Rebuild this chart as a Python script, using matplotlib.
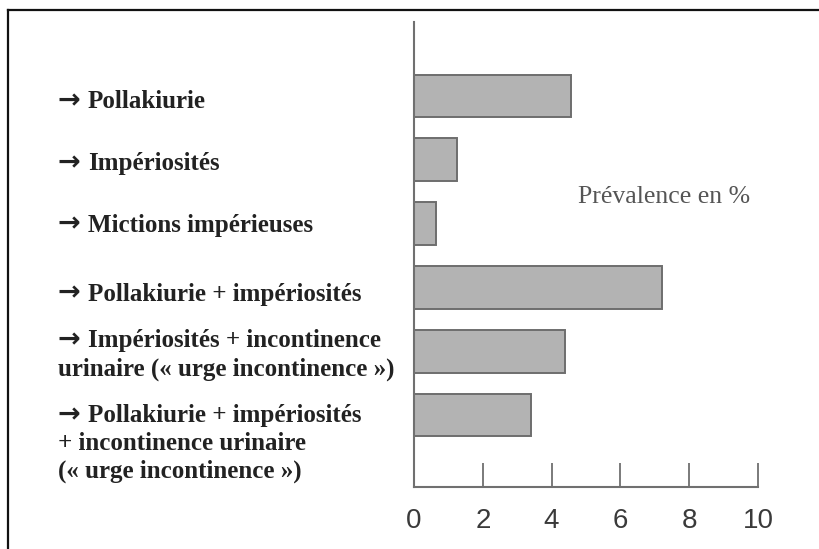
import matplotlib.pyplot as plt
from matplotlib.lines import Line2D
from matplotlib.transforms import blended_transform_factory

# Data
categories = [
    "Pollakiurie",
    "Impériosités",
    "Mictions impérieuses",
    "Pollakiurie + impériosités",
    "Impériosités + incontinence\nurinaire (« urge incontinence »)",
    "Pollakiurie + impériosités\n+ incontinence urinaire\n(« urge incontinence »)",
]
prevalence = [4.55, 1.25, 0.65, 7.2, 4.4, 3.4]
xticks = [0, 2, 4, 6, 8, 10]

serif = ["Liberation Serif", "DejaVu Serif"]
sans = ["Liberation Sans Narrow", "Liberation Sans", "DejaVu Sans"]

fig = plt.figure(figsize=(8.2, 5.49), dpi=100)
ax = fig.add_axes([0.5049, 0.1129, 0.4195, 0.8471])

ypos = list(range(len(prevalence)))
ax.barh(ypos, prevalence, height=0.67, color="#b3b3b3",
        edgecolor="#6e6e6e", linewidth=1.4)

ax.set_xlim(0, 10)
ax.set_ylim(6.13, -1.16)
ax.set_xticks(xticks)
ax.set_xticklabels([str(t) for t in xticks], family=sans, fontsize=20,
                   color="#3a3a3a")
ax.tick_params(axis="x", direction="in", length=17, width=1.3,
               color="#707070", pad=15)
ax.set_yticks([])

for side in ["top", "right"]:
    ax.spines[side].set_visible(False)
for side in ["left", "bottom"]:
    ax.spines[side].set_color("#707070")
    ax.spines[side].set_linewidth(1.5)

# category labels: x in figure fraction, y in data units
trans = blended_transform_factory(fig.transFigure, ax.transData)
baseline_shift = [0.19, 0.16, 0.13, 0.21, -0.06, 0.11]
line_step = 20  # points between lines
for y, label, dy in zip(ypos, categories, baseline_shift):
    lines = label.split("\n")
    ax.annotate("\u2192", xy=(57 / 820, y + dy), xycoords=trans,
                xytext=(0, 0), textcoords="offset points",
                ha="left", va="baseline", family=["DejaVu Sans"],
                fontweight="bold", fontsize=19.5, color="#222222")
    ax.annotate(lines[0], xy=(88 / 820, y + dy), xycoords=trans,
                xytext=(0, 0), textcoords="offset points",
                ha="left", va="baseline", family=serif, fontweight="bold",
                fontsize=18, color="#222222")
    for k, line in enumerate(lines[1:], start=1):
        ax.annotate(line, xy=(58 / 820, y + dy), xycoords=trans,
                    xytext=(0, -k * line_step), textcoords="offset points",
                    ha="left", va="baseline", family=serif, fontweight="bold",
                    fontsize=18, color="#222222")

fig.text(578 / 820, 1 - 197 / 549, "Prévalence en %", ha="left",
         va="center", family=serif, fontsize=18.5, color="#555555")

# frame of the original figure (top and left only)
fig.add_artist(Line2D([8 / 820, 1], [1 - 10 / 549, 1 - 10 / 549],
                      transform=fig.transFigure, color="#111111", lw=1.6))
fig.add_artist(Line2D([8 / 820, 8 / 820], [0, 1 - 10 / 549],
                      transform=fig.transFigure, color="#111111", lw=1.6))

fig.savefig("out.png", dpi=100)
